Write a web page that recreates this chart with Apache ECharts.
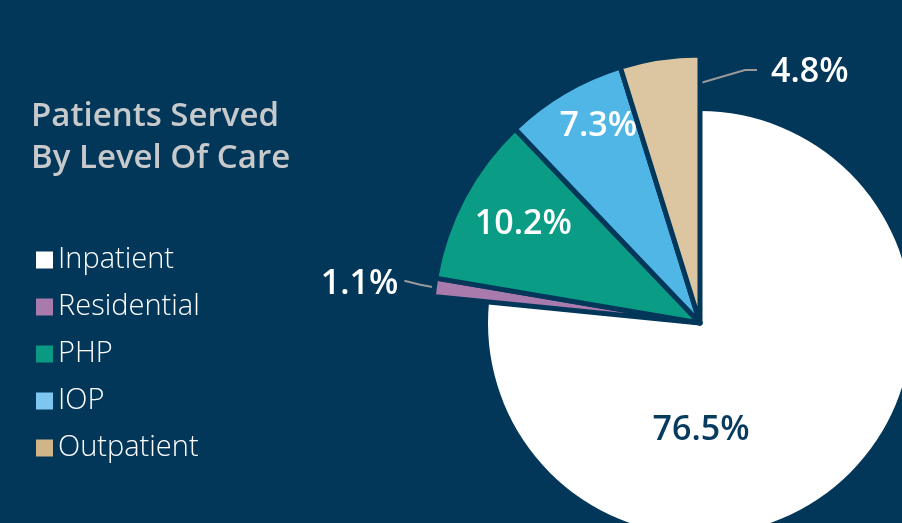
<!DOCTYPE html>
<html>
<head>
<meta charset="utf-8">
<script src="https://cdn.jsdelivr.net/npm/echarts@6/dist/echarts.min.js"></script>
<style>
html,body{margin:0;padding:0;background:#02375a;}
#chart{width:902px;height:523px;}
</style>
</head>
<body>
<div id="chart"></div>
<script>
const categories = ['Inpatient', 'Residential', 'PHP', 'IOP', 'Outpatient'];
const values = [76.5, 1.1, 10.2, 7.3, 4.8];
const labels = ['76.5%', '1.1%', '10.2%', '7.3%', '4.8%'];
const sliceColors = ['#ffffff', '#a87bac', '#0a9c85', '#4fb6e6', '#dcc6a1'];
const legendColors = ['#ffffff', '#a87bac', '#0a9a84', '#7dc6f0', '#cfb588'];

const BG = '#02375a';
const cx = 700, cy = 323, rBig = 268, rIn = 212;

const total = values.reduce((a, b) => a + b, 0);
const startA = [], endA = [];
let acc = 0;
values.forEach(v => { startA.push(acc / total * 360); acc += v; endA.push(acc / total * 360); });
function pt(deg, d) {
  const r = deg * Math.PI / 180;
  return [cx + d * Math.sin(r), cy - d * Math.cos(r)];
}

const chart = echarts.init(document.getElementById('chart'));
const font = '"Open Sans", Lato, sans-serif';

const option = {
  backgroundColor: BG,
  animation: false,
  title: {
    text: 'Patients Served\nBy Level Of Care',
    left: 26,
    top: 91,
    textStyle: { color: '#c7c9cb', fontSize: 33, fontWeight: 600, lineHeight: 42, fontFamily: font }
  },
  legend: {
    orient: 'vertical',
    left: 31,
    top: 240,
    itemWidth: 17,
    itemHeight: 17,
    itemGap: 17,
    itemStyle: { borderWidth: 0 },
    icon: 'rect',
    selectedMode: false,
    textStyle: { color: '#ffffff', fontSize: 29, fontWeight: 300, lineHeight: 30, fontFamily: font, padding: [0, 0, 0, 0] },
    data: categories.map((c, i) => ({ name: c, itemStyle: { color: legendColors[i] } }))
  },
  series: [
    {
      type: 'pie',
      center: [cx, cy],
      radius: rIn,
      startAngle: 90,
      clockwise: true,
      silent: true,
      emphasis: { disabled: true },
      label: { show: false },
      labelLine: { show: false },
      data: categories.map((c, i) => ({
        name: c,
        value: values[i],
        itemStyle: i === 0 ? { color: sliceColors[0], borderWidth: 0 } : { color: 'rgba(0,0,0,0)', borderWidth: 0 },
        label: i === 0 ? {
          show: true, position: 'inside', formatter: labels[0],
          color: '#063a5e', fontSize: 34, fontWeight: 600, fontFamily: font
        } : { show: false }
      })),
      labelLayout: function (p) {
        if (p.dataIndex === 0) {
          return { x: cx + 1, y: cy + 107, align: 'center', verticalAlign: 'middle' };
        }
        return {};
      }
    },
    {
      type: 'pie',
      center: [cx, cy],
      radius: rBig,
      startAngle: 90,
      clockwise: true,
      silent: true,
      emphasis: { disabled: true },
      data: categories.map((c, i) => {
        if (i === 0) {
          return { name: c, value: values[i], itemStyle: { color: 'rgba(0,0,0,0)', borderWidth: 0 }, label: { show: false }, labelLine: { show: false } };
        }
        const outside = (i === 1 || i === 4);
        return {
          name: c,
          value: values[i],
          itemStyle: { color: sliceColors[i], borderColor: BG, borderWidth: 5 },
          label: {
            show: true,
            position: outside ? 'outside' : 'inside',
            formatter: labels[i],
            color: '#ffffff', fontSize: 34, fontWeight: 600, fontFamily: font
          },
          labelLine: outside ? { show: true, lineStyle: { color: '#9a9a9a', width: 2 } } : { show: false }
        };
      }),
      labelLayout: function (p) {
        const i = p.dataIndex;
        const mid = (startA[i] + endA[i]) / 2;
        if (i === 2) {
          const q = pt(mid, rBig * 0.755);
          return { x: q[0] + 2, y: q[1] - 4, align: 'center', verticalAlign: 'middle' };
        }
        if (i === 3) {
          const q = pt(mid + 1.5, rBig * 0.815);
          return { x: q[0] + 4, y: q[1] - 6, align: 'center', verticalAlign: 'middle' };
        }
        if (i === 1) {
          const e = pt(mid, rBig - 4);
          return {
            x: e[0] - 40, y: e[1] - 4, align: 'right', verticalAlign: 'middle',
            labelLinePoints: [[e[0] - 2, e[1]], [e[0] - 18, e[1] - 3], [e[0] - 34, e[1] - 7]]
          };
        }
        if (i === 4) {
          const s = [cx - 3, cy - 239];
          return {
            x: s[0] + 74, y: s[1] - 12, align: 'left', verticalAlign: 'middle',
            labelLinePoints: [[s[0], s[1]], [s[0] + 48, s[1] - 14], [s[0] + 60, s[1] - 14]]
          };
        }
        return {};
      }
    }
  ]
};
chart.setOption(option);
</script>
</body>
</html>
